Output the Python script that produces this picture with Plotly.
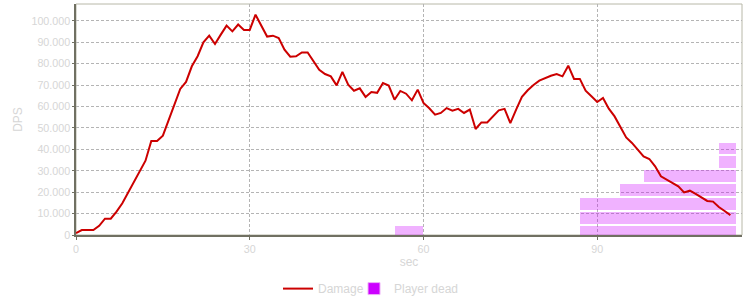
import plotly.graph_objects as go

# Damage per second, one value per second (0..113)
seconds = list(range(0, 114))
damage = [
    900, 2300, 2300, 2300, 4300, 7600, 7600, 10900, 14800, 19600,
    24400, 29700, 34700, 43900, 43900, 46400, 53900, 61200, 68200, 71500,
    78800, 83500, 90000, 93100, 89200, 93600, 97800, 95100, 98300, 95800,
    95800, 102900, 97500, 92700, 93100, 92000, 86600, 83300, 83500, 85300,
    85300, 81400, 77200, 75200, 74100, 69900, 76200, 70200, 67400, 68500,
    64500, 66800, 66400, 71000, 69800, 63200, 67300, 66000, 62900, 67900,
    61700, 59200, 56200, 57000, 59300, 58100, 58900, 57000, 58600, 49500,
    52600, 52600, 55400, 58200, 58900, 52300, 58600, 64500, 67600, 70100,
    72100, 73400, 74400, 75200, 74100, 79100, 72900, 72900, 67400, 64800,
    62100, 64000, 59000, 55400, 50500, 45600, 43000, 39900, 36700, 35500,
    32100, 27400, 25800, 24000, 22700, 19900, 20700, 19200, 17600, 15900,
    15600, 13100, 11200, 9300,
]

# Player-dead intervals: stacking row (1 = bottom), start and end second
dead_row = [1, 1, 2, 3, 4, 5, 6, 7]
dead_start = [55, 87, 87, 87, 94, 98, 111, 111]
dead_end = [60, 114, 114, 114, 114, 114, 114, 114]
row_height = 6500
bar_height = 5550

y_ticks = [0, 10000, 20000, 30000, 40000, 50000, 60000, 70000, 80000, 90000, 100000]
x_ticks = [0, 30, 60, 90]

label_color = "#d6d6d6"
grid_color = "#b4b4b4"
axis_color = "#707062"

fig = go.Figure()
fig.add_trace(go.Scatter(
    x=seconds, y=damage, mode="lines", name="Damage",
    line=dict(color="#cc0000", width=2), legend="legend",
))
fig.add_trace(go.Bar(
    orientation="h",
    y=[(r - 1) * row_height + bar_height / 2 + 250 for r in dead_row],
    x=[e - s for s, e in zip(dead_start, dead_end)],
    base=dead_start,
    width=bar_height,
    marker=dict(color="rgba(204,0,255,0.3)", line=dict(width=0)),
    showlegend=False, name="Player dead", hoverinfo="skip",
))
fig.add_trace(go.Bar(
    orientation="h", x=[None], y=[None], name="Player dead", legend="legend2",
    marker=dict(color="#cc00ff", line=dict(color="#eeb0f8", width=1)),
))

leg_common = dict(orientation="h", xanchor="left", xref="container",
                  y=0.038, yref="container", yanchor="middle",
                  font=dict(size=12, color=label_color), itemwidth=30,
                  bgcolor="rgba(0,0,0,0)")

fig.update_layout(
    width=750, height=300,
    margin=dict(l=76, r=8, t=4, b=65, autoexpand=False),
    paper_bgcolor="white", plot_bgcolor="white",
    separators=",.",
    font=dict(family="Liberation Sans, Arial, sans-serif", color=label_color, size=12),
    showlegend=True,
    legend=dict(x=278 / 750, **leg_common),
    legend2=dict(x=354 / 750, **leg_common),
    shapes=[dict(type="rect", xref="paper", yref="paper", x0=0, x1=1, y0=0, y1=1,
                 line=dict(color="#b8b8a8", width=1), layer="below")],
    bargap=0,
)
fig.update_xaxes(
    range=[0, 115], tickvals=x_ticks, ticktext=[str(v) for v in x_ticks],
    showgrid=True, gridcolor=grid_color, griddash="3px,2px", gridwidth=1,
    showline=True, linecolor=axis_color, linewidth=1.5,
    ticks="outside", ticklen=3, tickcolor=axis_color,
    tickfont=dict(size=10.7, color=label_color), zeroline=False,
    title=dict(text="sec", font=dict(size=12, color=label_color), standoff=4),
)
fig.update_yaxes(
    range=[0, 107900], tickvals=y_ticks, tickformat=",d",
    showgrid=True, gridcolor=grid_color, griddash="3px,2px", gridwidth=1,
    showline=True, linecolor=axis_color, linewidth=1.5,
    ticks="outside", ticklen=2, tickcolor=axis_color,
    tickfont=dict(size=10.7, color=label_color), zeroline=False,
    title=dict(text="DPS", font=dict(size=12, color=label_color), standoff=6),
)

fig.write_html("out.html")
